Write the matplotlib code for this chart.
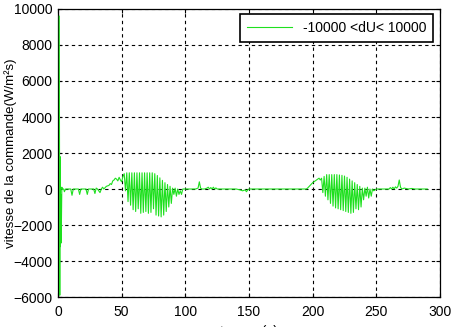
import numpy as np
import matplotlib
matplotlib.use('Agg')
import matplotlib.pyplot as plt

plt.rcParams['font.family'] = ['Liberation Sans', 'DejaVu Sans']

# start-up transient
t_start = [1.0, 1.2, 1.4, 1.6, 1.9, 2.2, 2.5, 3.0, 3.5, 4.5]
v_start = [9600, 1700, -5900, 1800, -3200, -300, -3000, 100, 0, 0]

# small dips before first manoeuvre
t_quiet1 = [5, 6, 7, 10, 11, 12, 13, 16, 17, 18, 19, 22, 23, 24, 25,
            28, 29, 30, 31, 33, 34, 35, 36, 38, 40]
v_quiet1 = [-150, 0, 0, 0, -350, 0, 0, 0, -300, 0, 0, 0, -300, 0, 0,
            0, -250, 50, 0, -200, 0, 100, 0, 150, 200]

t_ramp1 = [41, 42, 43, 44, 45, 46, 47, 48, 49, 50, 51]
v_ramp1 = [300, 250, 450, 500, 600, 550, 450, 650, 500, 400, 700]

# first oscillation burst: peak at t, trough at t + 1
osc1_t = np.arange(52, 95, 2)
osc1_peak = [850, 900, 900, 900, 900, 900, 900, 900, 900, 900, 900, 900,
             850, 750, 620, 480, 350, 250, 150, 50, 50, 0]
osc1_trough = [-100, -700, -900, -1150, -1250, -1100, -1350, -1300, -1250,
               -1350, -1300, -1100, -1450, -1500, -1550, -1450, -1250,
               -1000, -800, -300, -400, -300]

t_mid = [96, 97, 98, 100, 105, 108, 110, 111, 112, 113, 115, 117, 118,
         119, 120, 121, 122, 123, 124, 125, 127, 130, 140, 143, 145, 147,
         148, 149, 150, 152, 155, 160, 170, 180, 190, 195]
v_mid = [-100, -300, 0, 0, 0, 0, 50, 400, 50, 0, 0, 50, 100,
         0, 80, 0, 100, 0, 60, 0, 0, 0, 0, -50, -100, -50,
         -150, -50, 0, 0, 0, 0, 0, 0, 0, 0]

t_ramp2 = [196, 198, 200, 202, 203, 204, 205, 206]
v_ramp2 = [50, 200, 350, 450, 500, 550, 600, 500]

# second oscillation burst
osc2_t = np.arange(207, 246, 2)
osc2_peak = [600, 700, 800, 800, 800, 800, 800, 780, 760, 720, 650, 550,
             450, 350, 250, 150, 50, 50, 100, 0]
osc2_trough = [-200, -400, -600, -800, -950, -1050, -1100, -1150, -1200,
               -1250, -1300, -1350, -1300, -1100, -1150, -1000, -600, -400,
               -500, -400]

t_end = [247, 248, 250, 255, 258, 260, 261, 262, 263, 264, 265, 266, 267,
         268, 269, 270, 272, 275, 278, 280, 285, 290]
v_end = [0, -100, 0, 0, 0, 0, 80, 0, 100, 0, 120, 50, 150,
         500, 100, 0, 50, 0, 30, 0, 0, 0]


def burst(times, peaks, troughs):
    tt, vv = [], []
    for t, p, q in zip(times, peaks, troughs):
        tt += [t, t + 1]
        vv += [p, q]
    return tt, vv


o1_t, o1_v = burst(osc1_t, osc1_peak, osc1_trough)
o2_t, o2_v = burst(osc2_t, osc2_peak, osc2_trough)

t = np.concatenate([t_start, t_quiet1, t_ramp1, o1_t, t_mid, t_ramp2, o2_t, t_end])
v = np.concatenate([v_start, v_quiet1, v_ramp1, o1_v, v_mid, v_ramp2, o2_v, v_end])

fig = plt.figure(figsize=(4.51, 3.27), dpi=100)
ax = fig.add_axes([0.1286, 0.0917, 0.8470, 0.8808])
ax.plot(t, v, color='#1ee01e', lw=0.8, label='-10000 <dU< 10000', zorder=3)

ax.set_xlim(0, 300)
ax.set_ylim(-6000, 10000)
ax.set_xticks(range(0, 301, 50))
ax.set_yticks(range(-6000, 10001, 2000))
ax.grid(True, color='k', linestyle=(0, (3, 3)), lw=0.8)
ax.tick_params(direction='in', length=3, top=True, right=True, labelsize=10)
ax.tick_params(axis='x', pad=6)
ax.tick_params(axis='y', pad=4)
for s in ax.spines.values():
    s.set_linewidth(0.9)

ax.set_ylabel('vitesse de la commande(W/m²s)', fontsize=9.5)
ax.yaxis.set_label_coords(-0.108, 0.5)
ax.set_xlabel('temps (s)', fontsize=10, labelpad=4)

leg = ax.legend(loc='upper right', bbox_to_anchor=(0.982, 0.983),
                borderaxespad=0, fancybox=False, fontsize=10,
                handlelength=3.2, borderpad=0.5)
leg.get_frame().set_edgecolor('k')
leg.get_frame().set_linewidth(1.2)
leg.get_frame().set_alpha(1)
leg.set_zorder(5)

fig.savefig('out.png', dpi=100)
